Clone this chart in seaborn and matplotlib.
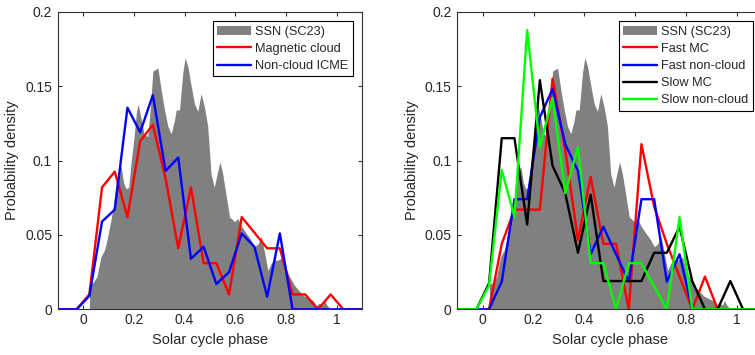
import numpy as np
import pandas as pd
import matplotlib
matplotlib.use('Agg')
import matplotlib.pyplot as plt
import seaborn as sns


# SSN (SC23) profile
ssn_phase = [0.025, 0.027, 0.04, 0.055, 0.07, 0.085, 0.095, 0.11, 0.12, 0.13, 0.14, 0.15,
             0.16, 0.17, 0.18, 0.19, 0.20, 0.21, 0.217, 0.23, 0.24, 0.255, 0.265, 0.275,
             0.282, 0.295, 0.308, 0.321, 0.334, 0.347, 0.36, 0.367, 0.38, 0.393, 0.402,
             0.413, 0.426, 0.439, 0.452, 0.465, 0.478, 0.491, 0.504, 0.517, 0.528, 0.539,
             0.55, 0.564, 0.577, 0.597, 0.61, 0.623, 0.643, 0.66, 0.676, 0.689, 0.702,
             0.715, 0.728, 0.741, 0.754, 0.767, 0.787, 0.80, 0.813, 0.833, 0.853, 0.87,
             0.892, 0.905, 0.918, 0.93, 0.945, 0.951, 0.96, 0.97, 0.975]
ssn_density = [0.0, 0.017, 0.018, 0.022, 0.035, 0.040, 0.047, 0.060, 0.070, 0.085, 0.093, 0.096,
               0.085, 0.081, 0.082, 0.100, 0.114, 0.132, 0.138, 0.127, 0.118, 0.116, 0.135, 0.160,
               0.161, 0.162, 0.147, 0.134, 0.123, 0.118, 0.127, 0.134, 0.134, 0.159, 0.169,
               0.163, 0.150, 0.138, 0.133, 0.145, 0.136, 0.123, 0.091, 0.082, 0.091, 0.099,
               0.091, 0.076, 0.062, 0.059, 0.061, 0.056, 0.051, 0.047, 0.042, 0.044, 0.049,
               0.038, 0.026, 0.031, 0.033, 0.033, 0.035, 0.027, 0.022, 0.016, 0.012, 0.009,
               0.007, 0.006, 0.0025, 0.004, 0.003, 0.006, 0.003, 0.001, 0.0]

# bin centres of the ICME histograms
bin_phase = [-0.125, -0.075, -0.025, 0.025, 0.075, 0.125, 0.175, 0.225, 0.275, 0.325,
             0.375, 0.425, 0.475, 0.525, 0.575, 0.625, 0.675, 0.725, 0.775, 0.825,
             0.875, 0.925, 0.975, 1.025, 1.075, 1.125]

# left panel
magnetic_cloud = [0, 0, 0, 0.010, 0.082, 0.0925, 0.062, 0.113, 0.124, 0.088,
                  0.041, 0.082, 0.031, 0.031, 0.010, 0.062, 0.0515, 0.041, 0.041, 0.010,
                  0.010, 0, 0.010, 0, 0, 0]
non_cloud_icme = [0, 0, 0, 0.009, 0.059, 0.067, 0.1355, 0.119, 0.144, 0.093,
                  0.102, 0.034, 0.042, 0.017, 0.025, 0.051, 0.042, 0.0085, 0.051, 0,
                  0, 0, 0, 0, 0, 0]

# right panel
fast_mc = [0, 0, 0, 0, 0.044, 0.067, 0.067, 0.067, 0.155, 0.107,
           0.0466, 0.089, 0.044, 0.044, 0, 0.111, 0.069, 0.044, 0.022, 0,
           0.022, 0, 0, 0, 0, 0]
fast_non_cloud = [0, 0, 0, 0, 0.0186, 0.074, 0.074, 0.129, 0.148, 0.111,
                  0.093, 0.037, 0.0555, 0.037, 0.0186, 0.074, 0.074, 0.0186, 0.037, 0,
                  0, 0, 0, 0, 0, 0]
slow_mc = [0, 0, 0, 0.0175, 0.115, 0.115, 0.057, 0.154, 0.0965, 0.078,
           0.038, 0.077, 0.019, 0.019, 0.019, 0.019, 0.038, 0.038, 0.0555, 0.019,
           0, 0, 0.019, 0, 0, 0]
slow_non_cloud = [0, 0, 0, 0.016, 0.0936, 0.062, 0.1877, 0.109, 0.142, 0.078,
                  0.109, 0.031, 0.031, 0, 0.031, 0.031, 0.0155, 0, 0.062, 0,
                  0, 0, 0, 0, 0, 0]

x_ticks = [0, 0.2, 0.4, 0.6, 0.8, 1]
x_tick_labels = ['0', '0.2', '0.4', '0.6', '0.8', '1']
y_ticks = [0, 0.05, 0.1, 0.15, 0.2]
y_tick_labels = ['0', '0.05', '0.1', '0.15', '0.2']

left_series = [('Magnetic cloud', magnetic_cloud, '#ff0000'),
               ('Non-cloud ICME', non_cloud_icme, '#0000ff')]
right_series = [('Fast MC', fast_mc, '#ff0000'),
                ('Fast non-cloud', fast_non_cloud, '#0000ff'),
                ('Slow MC', slow_mc, '#000000'),
                ('Slow non-cloud', slow_non_cloud, '#00ff00')]


sns.set_style('ticks')
plt.rcParams['font.family'] = ['Liberation Sans', 'DejaVu Sans']

fig = plt.figure(figsize=(7.55, 3.55), dpi=100)
ax1 = fig.add_axes([0.0763, 0.1287, 0.4037, 0.8383])
ax2 = fig.add_axes([0.6057, 0.1287, 0.4037, 0.8383])

axis_color = '#333333'

for ax, series in [(ax1, left_series), (ax2, right_series)]:
    ax.fill_between(ssn_phase, ssn_density, 0, color='#808080', linewidth=0,
                    label='SSN (SC23)')
    for name, values, color in series:
        df = pd.DataFrame({'phase': bin_phase, 'density': values})
        sns.lineplot(data=df, x='phase', y='density', ax=ax, color=color,
                     linewidth=1.7, label=name, sort=False)
    ax.set_xlim(-0.1, 1.1)
    ax.set_ylim(0, 0.2)
    ax.set_xticks(x_ticks)
    ax.set_xticklabels(x_tick_labels)
    ax.set_yticks(y_ticks)
    ax.set_yticklabels(y_tick_labels)
    ax.tick_params(direction='in', length=3, width=0.8, top=True, right=True,
                   labelsize=10, colors=axis_color, labelcolor='#262626')
    ax.tick_params(axis='x', pad=3)
    ax.tick_params(axis='y', pad=4)
    for sp in ax.spines.values():
        sp.set_visible(True)
        sp.set_color(axis_color)
        sp.set_linewidth(0.8)
    ax.set_xlabel('Solar cycle phase', fontsize=10.5, color='#262626', labelpad=4)
    ax.set_ylabel('Probability density', fontsize=10.5, color='#262626', labelpad=4)
    leg = ax.legend(loc='upper right', fontsize=9.2, frameon=True, fancybox=False,
                    edgecolor='#000000', framealpha=1, borderaxespad=0.75,
                    handlelength=2.65, handletextpad=0.3, labelspacing=0.4,
                    borderpad=0.35)
    leg.get_frame().set_linewidth(0.8)

fig.savefig('out.png', dpi=100)
